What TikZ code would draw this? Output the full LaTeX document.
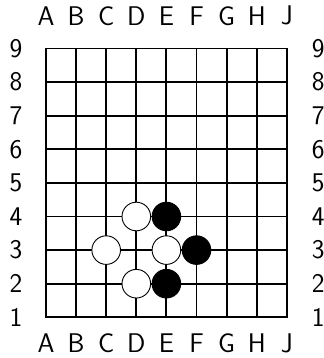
\documentclass[tikz,border=0pt]{standalone}
\usepackage{tikz}
\begin{document}
\begin{tikzpicture}[x=30.1pt,y=33.6pt,line join=round,line cap=round,
	font=\fontsize{27}{27}\selectfont\sffamily]
	\def \r{14.3pt} % stone radius
	\useasboundingbox (-0.528,-0.211) rectangle (10.203,10.443);
	% board
	\draw[line width=1.9pt,line cap=butt,step=1] (1,1) grid (9,9);
	\draw[line width=1.9pt,line join=miter] (1,1) rectangle (9,9);
	% coordinates
	\foreach \c [count=\i] in {A,B,C,D,E,F,G,H,J}{
		\node (top\c) at (\i,9.973) {\c};
		\node (bot\c) at (\i,0.235) {\c};
	}
	\foreach \j in {1,...,9}{
		\node (left\j) at (0,\j) {\j};
		\node (right\j) at (10.04,\j) {\j};
	}
	% stones
	\foreach \p in {(4,4),(3,3),(5,3),(4,2)}
		\filldraw[fill=white,line width=0.9pt] \p circle (\r);
	\foreach \p in {(5,4),(6,3),(5,2)}
		\filldraw[fill=black,line width=0.9pt] \p circle (\r);
\end{tikzpicture}
\end{document}
